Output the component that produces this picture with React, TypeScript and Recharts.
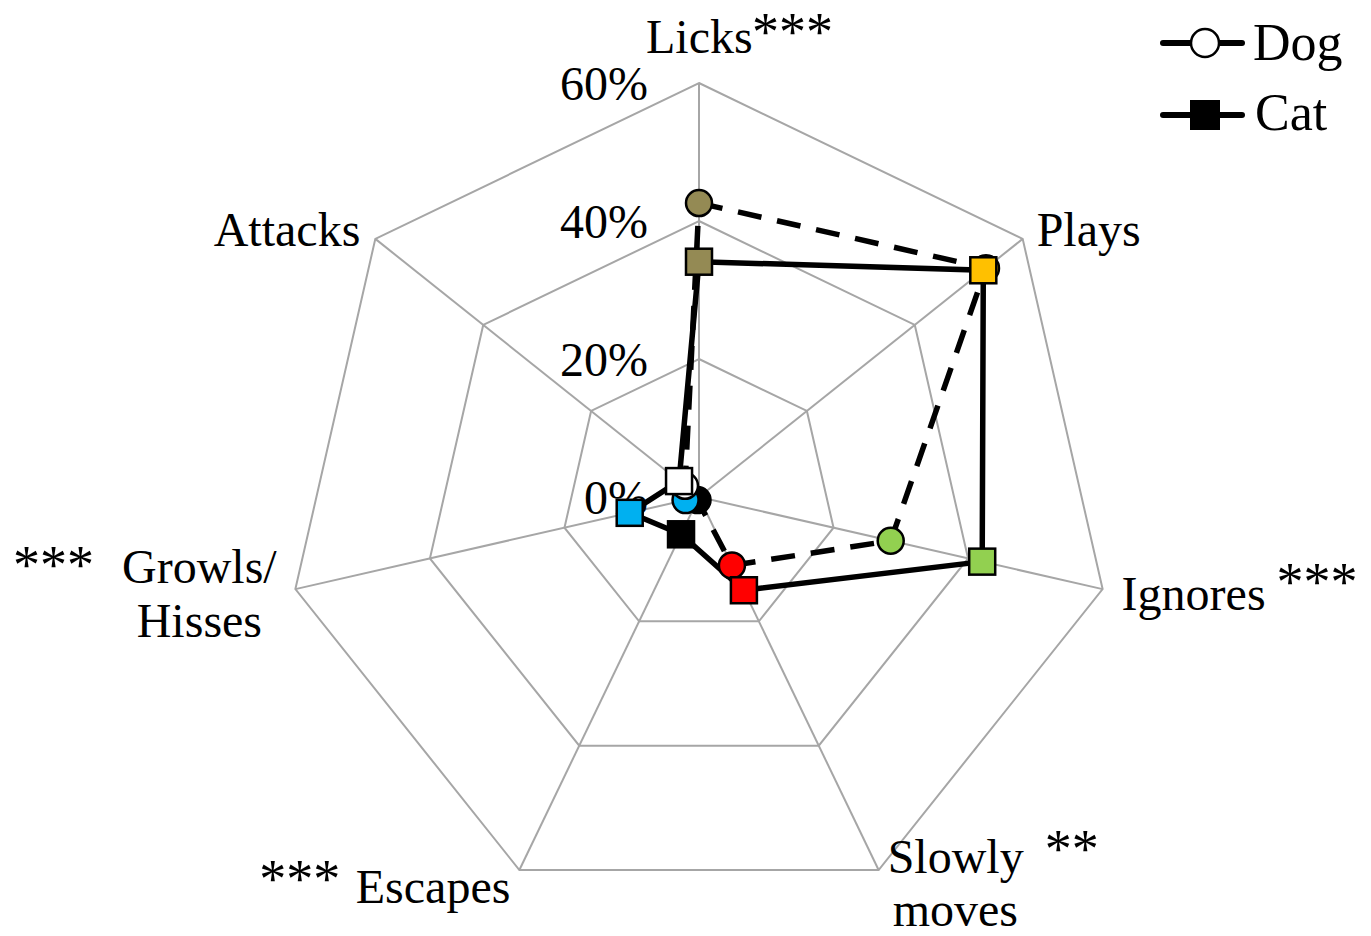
import { RadarChart, Radar, PolarGrid, PolarAngleAxis, PolarRadiusAxis, Legend } from 'recharts';

const categories = ['Licks', 'Plays', 'Ignores', 'Slowly moves', 'Escapes', 'Growls/Hisses', 'Attacks'];
const dogValues = [42.6, 53.2, 28.5, 11, 0.5, 2, 2.6];
const catValues = [34.1, 52.7, 42.1, 15, 6, 10.3, 3.7];
const pointColors = ['#948a54', '#ffc000', '#92d050', '#ff0000', '#000000', '#00b0f0', '#ffffff'];
const radiusTicks = [0, 20, 40, 60];

const CX = 699;
const CY = 497;
const R = 414;
const FONT = '"Liberation Serif", "Times New Roman", serif';
const RAD = Math.PI / 180;

const data = categories.map((name, i) => ({ name, dog: dogValues[i], cat: catValues[i] }));

// label pieces per axis, offsets measured from the outer vertex; s = font size
type Piece = { t: string; dx: number; dy: number; a: 'start' | 'middle' | 'end'; s?: number };
const labelPieces: Record<string, Piece[]> = {
  Licks: [
    { t: 'Licks', dx: -53, dy: -30, a: 'start' },
    { t: '***', dx: 53, dy: -33, a: 'start', s: 54 },
  ],
  Plays: [{ t: 'Plays', dx: 14, dy: 7, a: 'start' }],
  Ignores: [
    { t: 'Ignores', dx: 19, dy: 21, a: 'start' },
    { t: '***', dx: 174, dy: 11, a: 'start', s: 54 },
  ],
  'Slowly moves': [
    { t: 'Slowly', dx: 9, dy: 3, a: 'start' },
    { t: '**', dx: 166, dy: -3, a: 'start', s: 54 },
    { t: 'moves', dx: 14, dy: 56, a: 'start' },
  ],
  Escapes: [
    { t: 'Escapes', dx: -9, dy: 33, a: 'end' },
    { t: '***', dx: -179, dy: 27, a: 'end', s: 54 },
  ],
  'Growls/Hisses': [
    { t: 'Growls/', dx: -96, dy: -6, a: 'middle' },
    { t: 'Hisses', dx: -96, dy: 48, a: 'middle' },
    { t: '***', dx: -242, dy: -6, a: 'middle', s: 54 },
  ],
  Attacks: [{ t: 'Attacks', dx: -15, dy: 7, a: 'end' }],
};

const AngleTick = (props: any) => {
  const { payload } = props;
  const angle = payload.coordinate;
  const vx = CX + R * Math.cos(-angle * RAD);
  const vy = CY + R * Math.sin(-angle * RAD);
  const pieces = labelPieces[payload.value] || [];
  return (
    <g>
      {pieces.map((p, i) => (
        <text key={i} x={vx + p.dx} y={vy + p.dy} textAnchor={p.a} fontFamily={FONT} fontSize={p.s || 48} fill="#000">
          {p.t}
        </text>
      ))}
    </g>
  );
};

const RadiusTick = (props: any) => {
  const { x, y, payload } = props;
  return (
    <text x={x - 51} y={y + 17} textAnchor="end" fontFamily={FONT} fontSize={48} fill="#000">
      {`${payload.value}%`}
    </text>
  );
};

const DogDot = (props: any) => {
  const { cx, cy, index } = props;
  return <circle key={`dog-${index}`} cx={cx} cy={cy} r={13} fill={pointColors[index]} stroke="#000" strokeWidth={2.5} />;
};

const CatDot = (props: any) => {
  const { cx, cy, index } = props;
  return (
    <rect
      key={`cat-${index}`}
      x={cx - 13}
      y={cy - 13}
      width={26}
      height={26}
      fill={pointColors[index]}
      stroke="#000"
      strokeWidth={2.5}
    />
  );
};

const LegendBox = () => (
  <svg width={221} height={150}>
    <line x1={13} y1={43} x2={92} y2={43} stroke="#000" strokeWidth={6} strokeLinecap="round" />
    <circle cx={55} cy={43} r={14} fill="#fff" stroke="#000" strokeWidth={2.5} />
    <text x={103} y={60} fontFamily={FONT} fontSize={52} fill="#000">Dog</text>
    <line x1={13} y1={115} x2={92} y2={115} stroke="#000" strokeWidth={6} strokeLinecap="round" />
    <rect x={40} y={100} width={30} height={30} fill="#000" />
    <text x={105} y={130} fontFamily={FONT} fontSize={52} fill="#000">Cat</text>
  </svg>
);

export default function App() {
  return (
    <div style={{ position: 'absolute', left: 0, top: 0, width: 1371, height: 936, background: '#fff' }}>
      <RadarChart
        width={1371}
        height={936}
        data={data}
        cx={CX}
        cy={CY}
        outerRadius={R}
        margin={{ top: 0, right: 0, bottom: 0, left: 0 }}
      >
        <PolarGrid gridType="polygon" stroke="#a6a6a6" strokeWidth={2} />
        <PolarAngleAxis dataKey="name" tick={AngleTick} tickLine={false} axisLine={false} />
        <PolarRadiusAxis
          angle={90}
          domain={[0, 60]}
          ticks={radiusTicks as any}
          tickCount={4}
          axisLine={false}
          tick={RadiusTick}
        />
        <Radar
          name="Dog"
          dataKey="dog"
          stroke="#000"
          strokeWidth={5.5}
          strokeDasharray="24 16"
          fill="none"
          fillOpacity={0}
          dot={DogDot}
          isAnimationActive={false}
        />
        <Radar
          name="Cat"
          dataKey="cat"
          stroke="#000"
          strokeWidth={5.5}
          fill="none"
          fillOpacity={0}
          dot={CatDot}
          isAnimationActive={false}
        />
        <Legend
          content={LegendBox}
          wrapperStyle={{ position: 'absolute', left: 1150, top: 0, width: 221, height: 150 }}
        />
      </RadarChart>
    </div>
  );
}
